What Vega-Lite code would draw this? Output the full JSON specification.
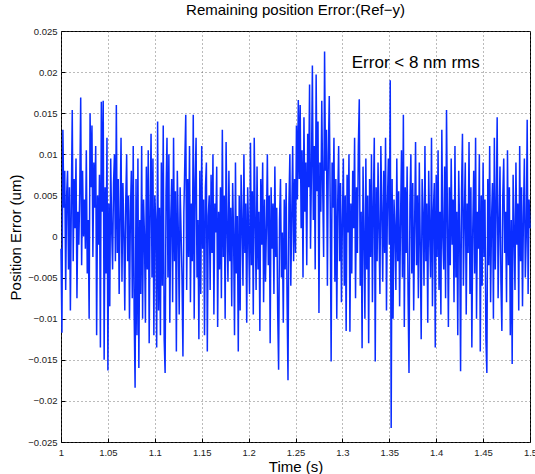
{
"$schema":"https://vega.github.io/schema/vega-lite/v6.json",
"autosize":"none",
"padding":{"left":61,"top":31,"right":5,"bottom":32},
"width":469,"height":411,
"background":"white",
"config":{"font":"Liberation Sans","view":{"stroke":"black","strokeWidth":1}},
"title":{"text":"Remaining position Error:(Ref−y)","fontSize":15,"fontWeight":"normal","color":"black","offset":8,"anchor":"middle"},
"datasets":{"sig":[
{"t":1.000,"e":-0.0015},{"t":1.001,"e":-0.0117},{"t":1.002,"e":0.013},{"t":1.003,"e":0.0035},{"t":1.004,"e":0.008},{"t":1.005,"e":-0.0065},{"t":1.006,"e":0.005},{"t":1.007,"e":0.008},{"t":1.008,"e":-0.004},{"t":1.009,"e":0.006},
{"t":1.010,"e":-0.009},{"t":1.011,"e":0.004},{"t":1.012,"e":0.0154},{"t":1.013,"e":-0.003},{"t":1.014,"e":0.007},{"t":1.015,"e":0.001},{"t":1.016,"e":0.0095},{"t":1.017,"e":-0.0075},{"t":1.018,"e":0.003},{"t":1.019,"e":-0.001},
{"t":1.020,"e":0.0055},{"t":1.021,"e":0.0169},{"t":1.022,"e":-0.0035},{"t":1.023,"e":0.008},{"t":1.024,"e":0},{"t":1.025,"e":0.0045},{"t":1.026,"e":-0.0015},{"t":1.027,"e":0.0105},{"t":1.028,"e":-0.0045},{"t":1.029,"e":0.002},
{"t":1.030,"e":-0.01},{"t":1.031,"e":0.015},{"t":1.032,"e":0.006},{"t":1.033,"e":0.0135},{"t":1.034,"e":-0.0025},{"t":1.035,"e":0.009},{"t":1.036,"e":0.0035},{"t":1.037,"e":0.011},{"t":1.038,"e":-0.012},{"t":1.039,"e":0.005},
{"t":1.040,"e":-0.001},{"t":1.041,"e":0.0075},{"t":1.042,"e":-0.0135},{"t":1.043,"e":0.0164},{"t":1.044,"e":0.003},{"t":1.045,"e":0.0165},{"t":1.046,"e":-0.015},{"t":1.047,"e":0.006},{"t":1.048,"e":-0.0045},{"t":1.049,"e":0.012},
{"t":1.050,"e":-0.0163},{"t":1.051,"e":0.004},{"t":1.052,"e":-0.0085},{"t":1.053,"e":0.0095},{"t":1.054,"e":0.001},{"t":1.055,"e":-0.004},{"t":1.056,"e":0.0065},{"t":1.057,"e":0.01},{"t":1.058,"e":-0.003},{"t":1.059,"e":0.016},
{"t":1.060,"e":-0.002},{"t":1.061,"e":0.007},{"t":1.062,"e":-0.007},{"t":1.063,"e":0.0025},{"t":1.064,"e":0.012},{"t":1.065,"e":-0.0055},{"t":1.066,"e":0.0065},{"t":1.067,"e":0.0005},{"t":1.068,"e":-0.009},{"t":1.069,"e":0.004},
{"t":1.070,"e":0.01},{"t":1.071,"e":-0.003},{"t":1.072,"e":0.005},{"t":1.073,"e":-0.01},{"t":1.074,"e":0.003},{"t":1.075,"e":0.008},{"t":1.076,"e":-0.0075},{"t":1.077,"e":0.011},{"t":1.078,"e":-0.0095},{"t":1.079,"e":-0.0184},
{"t":1.080,"e":0.007},{"t":1.081,"e":-0.012},{"t":1.082,"e":0.0095},{"t":1.083,"e":-0.016},{"t":1.084,"e":0.002},{"t":1.085,"e":-0.007},{"t":1.086,"e":0.011},{"t":1.087,"e":-0.01},{"t":1.088,"e":0.0045},{"t":1.089,"e":0},
{"t":1.090,"e":-0.0105},{"t":1.091,"e":0.0085},{"t":1.092,"e":-0.004},{"t":1.093,"e":0.0105},{"t":1.094,"e":-0.013},{"t":1.095,"e":0.003},{"t":1.096,"e":0.0125},{"t":1.097,"e":-0.005},{"t":1.098,"e":0.0095},{"t":1.099,"e":-0.012},
{"t":1.100,"e":0.005},{"t":1.101,"e":0.002},{"t":1.102,"e":-0.0135},{"t":1.103,"e":0.014},{"t":1.104,"e":-0.009},{"t":1.105,"e":0.0035},{"t":1.106,"e":-0.012},{"t":1.107,"e":0.009},{"t":1.108,"e":-0.006},{"t":1.109,"e":0.0135},
{"t":1.110,"e":-0.0125},{"t":1.111,"e":-0.0166},{"t":1.112,"e":0.0055},{"t":1.113,"e":0.012},{"t":1.114,"e":-0.005},{"t":1.115,"e":0.01},{"t":1.116,"e":-0.0105},{"t":1.117,"e":0.002},{"t":1.118,"e":0.007},{"t":1.119,"e":-0.008},
{"t":1.120,"e":0.012},{"t":1.121,"e":-0.003},{"t":1.122,"e":0.0055},{"t":1.123,"e":-0.014},{"t":1.124,"e":0.008},{"t":1.125,"e":0.001},{"t":1.126,"e":-0.0095},{"t":1.127,"e":0.006},{"t":1.128,"e":0.0005},{"t":1.129,"e":-0.005},
{"t":1.130,"e":-0.0146},{"t":1.131,"e":0.003},{"t":1.132,"e":0.009},{"t":1.133,"e":0.0148},{"t":1.134,"e":-0.0065},{"t":1.135,"e":0.007},{"t":1.136,"e":-0.0025},{"t":1.137,"e":0.011},{"t":1.138,"e":-0.008},{"t":1.139,"e":0.004},
{"t":1.140,"e":-0.003},{"t":1.141,"e":0.0148},{"t":1.142,"e":-0.01},{"t":1.143,"e":0.0065},{"t":1.144,"e":0.012},{"t":1.145,"e":-0.005},{"t":1.146,"e":0.002},{"t":1.147,"e":-0.0125},{"t":1.148,"e":0.008},{"t":1.149,"e":-0.007},
{"t":1.150,"e":0.011},{"t":1.151,"e":-0.0015},{"t":1.152,"e":0.0045},{"t":1.153,"e":-0.012},{"t":1.154,"e":0.006},{"t":1.155,"e":0.009},{"t":1.156,"e":-0.014},{"t":1.157,"e":0.0025},{"t":1.158,"e":0.005},{"t":1.159,"e":-0.0065},
{"t":1.160,"e":0.0075},{"t":1.161,"e":-0.002},{"t":1.162,"e":0.01},{"t":1.163,"e":-0.0095},{"t":1.164,"e":0.004},{"t":1.165,"e":0.0005},{"t":1.166,"e":0.0085},{"t":1.167,"e":-0.011},{"t":1.168,"e":0.003},{"t":1.169,"e":-0.004},
{"t":1.170,"e":0.006},{"t":1.171,"e":-0.0075},{"t":1.172,"e":0.013},{"t":1.173,"e":-0.0025},{"t":1.174,"e":0.005},{"t":1.175,"e":-0.01},{"t":1.176,"e":0.0115},{"t":1.177,"e":0.001},{"t":1.178,"e":-0.0055},{"t":1.179,"e":0.008},
{"t":1.180,"e":-0.003},{"t":1.181,"e":0.0035},{"t":1.182,"e":-0.0085},{"t":1.183,"e":0.0065},{"t":1.184,"e":0},{"t":1.185,"e":-0.012},{"t":1.186,"e":0.009},{"t":1.187,"e":-0.0045},{"t":1.188,"e":0.0025},{"t":1.189,"e":-0.014},
{"t":1.190,"e":0.005},{"t":1.191,"e":-0.009},{"t":1.192,"e":0.0075},{"t":1.193,"e":0.0015},{"t":1.194,"e":-0.006},{"t":1.195,"e":0.01},{"t":1.196,"e":-0.002},{"t":1.197,"e":0.004},{"t":1.198,"e":-0.0105},{"t":1.199,"e":0.006},
{"t":1.200,"e":0.0005},{"t":1.201,"e":-0.007},{"t":1.202,"e":0.0114},{"t":1.203,"e":-0.0035},{"t":1.204,"e":0.0055},{"t":1.205,"e":-0.0095},{"t":1.206,"e":0.012},{"t":1.207,"e":0.002},{"t":1.208,"e":-0.0065},{"t":1.209,"e":0.0085},
{"t":1.210,"e":-0.004},{"t":1.211,"e":0.003},{"t":1.212,"e":-0.0115},{"t":1.213,"e":0.007},{"t":1.214,"e":-0.001},{"t":1.215,"e":0.009},{"t":1.216,"e":-0.008},{"t":1.217,"e":0.0045},{"t":1.218,"e":-0.0055},{"t":1.219,"e":0.001},
{"t":1.220,"e":0.01},{"t":1.221,"e":-0.0035},{"t":1.222,"e":0.005},{"t":1.223,"e":-0.013},{"t":1.224,"e":0.006},{"t":1.225,"e":-0.0015},{"t":1.226,"e":0.004},{"t":1.227,"e":-0.007},{"t":1.228,"e":0.0085},{"t":1.229,"e":-0.0025},
{"t":1.230,"e":0.0035},{"t":1.231,"e":-0.009},{"t":1.232,"e":-0.0162},{"t":1.233,"e":0.002},{"t":1.234,"e":0.007},{"t":1.235,"e":-0.005},{"t":1.236,"e":0.0005},{"t":1.237,"e":-0.0105},{"t":1.238,"e":0.0045},{"t":1.239,"e":-0.004},
{"t":1.240,"e":0.0065},{"t":1.241,"e":-0.0075},{"t":1.242,"e":-0.0175},{"t":1.243,"e":0.004},{"t":1.244,"e":0.01},{"t":1.245,"e":-0.006},{"t":1.246,"e":0.0025},{"t":1.247,"e":0.011},{"t":1.248,"e":-0.003},{"t":1.249,"e":0.007},
{"t":1.250,"e":-0.002},{"t":1.251,"e":0.0135},{"t":1.252,"e":0.0045},{"t":1.253,"e":0.0166},{"t":1.254,"e":0.007},{"t":1.255,"e":0.016},{"t":1.256,"e":0.001},{"t":1.257,"e":0.0105},{"t":1.258,"e":-0.005},{"t":1.259,"e":0.0145},
{"t":1.260,"e":0.003},{"t":1.261,"e":0.009},{"t":1.262,"e":-0.0035},{"t":1.263,"e":0.0125},{"t":1.264,"e":0.006},{"t":1.265,"e":0.0185},{"t":1.266,"e":-0.0015},{"t":1.267,"e":0.008},{"t":1.268,"e":0.0208},{"t":1.269,"e":0.002},
{"t":1.270,"e":0.011},{"t":1.271,"e":-0.004},{"t":1.272,"e":0.0197},{"t":1.273,"e":0.0055},{"t":1.274,"e":0.014},{"t":1.275,"e":-0.0093},{"t":1.276,"e":0.009},{"t":1.277,"e":0.003},{"t":1.278,"e":0.0165},{"t":1.279,"e":0.006},
{"t":1.280,"e":-0.0025},{"t":1.281,"e":0.0225},{"t":1.282,"e":0.008},{"t":1.283,"e":0.013},{"t":1.284,"e":-0.006},{"t":1.285,"e":0.01},{"t":1.286,"e":0.0171},{"t":1.287,"e":0.004},{"t":1.288,"e":-0.0152},{"t":1.289,"e":0.009},
{"t":1.290,"e":0.0035},{"t":1.291,"e":0.012},{"t":1.292,"e":-0.0055},{"t":1.293,"e":0.007},{"t":1.294,"e":-0.01},{"t":1.295,"e":0.004},{"t":1.296,"e":0.011},{"t":1.297,"e":-0.003},{"t":1.298,"e":0.0065},{"t":1.299,"e":-0.008},
{"t":1.300,"e":0.002},{"t":1.301,"e":0.0095},{"t":1.302,"e":-0.006},{"t":1.303,"e":0.005},{"t":1.304,"e":-0.0115},{"t":1.305,"e":0.0075},{"t":1.306,"e":0.0005},{"t":1.307,"e":0.01},{"t":1.308,"e":-0.0116},{"t":1.309,"e":0.004},
{"t":1.310,"e":-0.0045},{"t":1.311,"e":0.008},{"t":1.312,"e":0.001},{"t":1.313,"e":0.012},{"t":1.314,"e":-0.0075},{"t":1.315,"e":0.006},{"t":1.316,"e":-0.002},{"t":1.317,"e":0.011},{"t":1.318,"e":0.0167},{"t":1.319,"e":-0.006},
{"t":1.320,"e":0.003},{"t":1.321,"e":-0.0136},{"t":1.322,"e":0.0085},{"t":1.323,"e":0},{"t":1.324,"e":-0.01},{"t":1.325,"e":0.0095},{"t":1.326,"e":-0.004},{"t":1.327,"e":0.005},{"t":1.328,"e":-0.013},{"t":1.329,"e":0.007},
{"t":1.330,"e":-0.0025},{"t":1.331,"e":0.01},{"t":1.332,"e":-0.008},{"t":1.333,"e":0.004},{"t":1.334,"e":0.012},{"t":1.335,"e":-0.0152},{"t":1.336,"e":0.006},{"t":1.337,"e":-0.003},{"t":1.338,"e":0.009},{"t":1.339,"e":0.0005},
{"t":1.340,"e":-0.007},{"t":1.341,"e":0.011},{"t":1.342,"e":0.003},{"t":1.343,"e":-0.0055},{"t":1.344,"e":0.008},{"t":1.345,"e":-0.002},{"t":1.346,"e":0.012},{"t":1.347,"e":-0.009},{"t":1.348,"e":0.004},{"t":1.349,"e":0.0095},
{"t":1.350,"e":-0.001},{"t":1.351,"e":0.019},{"t":1.352,"e":-0.0233},{"t":1.353,"e":0.007},{"t":1.354,"e":-0.01},{"t":1.355,"e":0.0045},{"t":1.356,"e":0.001},{"t":1.357,"e":-0.0065},{"t":1.358,"e":0.0095},{"t":1.359,"e":-0.003},
{"t":1.360,"e":0.0055},{"t":1.361,"e":-0.0085},{"t":1.362,"e":0.002},{"t":1.363,"e":0.0105},{"t":1.364,"e":-0.005},{"t":1.365,"e":0.0148},{"t":1.366,"e":-0.011},{"t":1.367,"e":0.006},{"t":1.368,"e":-0.002},{"t":1.369,"e":0.0085},
{"t":1.370,"e":-0.007},{"t":1.371,"e":-0.0166},{"t":1.372,"e":0.004},{"t":1.373,"e":0.01},{"t":1.374,"e":-0.0045},{"t":1.375,"e":0.0065},{"t":1.376,"e":-0.009},{"t":1.377,"e":0.0015},{"t":1.378,"e":0.0115},{"t":1.379,"e":-0.0035},
{"t":1.380,"e":0.005},{"t":1.381,"e":-0.0075},{"t":1.382,"e":0.009},{"t":1.383,"e":-0.001},{"t":1.384,"e":-0.0125},{"t":1.385,"e":0.007},{"t":1.386,"e":0.0025},{"t":1.387,"e":-0.006},{"t":1.388,"e":0.011},{"t":1.389,"e":-0.003},
{"t":1.390,"e":0.004},{"t":1.391,"e":-0.0105},{"t":1.392,"e":0.008},{"t":1.393,"e":0.0005},{"t":1.394,"e":-0.005},{"t":1.395,"e":0.012},{"t":1.396,"e":-0.0085},{"t":1.397,"e":0.003},{"t":1.398,"e":0.0065},{"t":1.399,"e":-0.0135},
{"t":1.400,"e":0.0075},{"t":1.401,"e":-0.0025},{"t":1.402,"e":0.0105},{"t":1.403,"e":-0.0065},{"t":1.404,"e":0.003},{"t":1.405,"e":-0.0095},{"t":1.406,"e":0.013},{"t":1.407,"e":0},{"t":1.408,"e":-0.004},{"t":1.409,"e":0.0085},
{"t":1.410,"e":-0.0075},{"t":1.411,"e":0.0154},{"t":1.412,"e":0.002},{"t":1.413,"e":-0.011},{"t":1.414,"e":0.006},{"t":1.415,"e":-0.0035},{"t":1.416,"e":0.0095},{"t":1.417,"e":-0.001},{"t":1.418,"e":0.0045},{"t":1.419,"e":-0.008},
{"t":1.420,"e":0.011},{"t":1.421,"e":-0.005},{"t":1.422,"e":0.003},{"t":1.423,"e":-0.012},{"t":1.424,"e":0.008},{"t":1.425,"e":0.0005},{"t":1.426,"e":-0.0164},{"t":1.427,"e":0.0055},{"t":1.428,"e":0.0125},{"t":1.429,"e":-0.006},
{"t":1.430,"e":0.0025},{"t":1.431,"e":0.009},{"t":1.432,"e":-0.0095},{"t":1.433,"e":0.004},{"t":1.434,"e":-0.002},{"t":1.435,"e":0.0115},{"t":1.436,"e":-0.007},{"t":1.437,"e":0.006},{"t":1.438,"e":-0.0135},{"t":1.439,"e":0.001},
{"t":1.440,"e":0.008},{"t":1.441,"e":-0.0045},{"t":1.442,"e":0.012},{"t":1.443,"e":-0.01},{"t":1.444,"e":0.003},{"t":1.445,"e":-0.0015},{"t":1.446,"e":0.01},{"t":1.447,"e":-0.014},{"t":1.448,"e":0.005},{"t":1.449,"e":-0.006},
{"t":1.450,"e":0.009},{"t":1.451,"e":-0.0025},{"t":1.452,"e":0.0045},{"t":1.453,"e":-0.0125},{"t":1.454,"e":-0.0166},{"t":1.455,"e":0.007},{"t":1.456,"e":-0.0035},{"t":1.457,"e":0.011},{"t":1.458,"e":-0.008},{"t":1.459,"e":0.002},
{"t":1.460,"e":0.0065},{"t":1.461,"e":-0.01},{"t":1.462,"e":0.012},{"t":1.463,"e":-0.004},{"t":1.464,"e":0.0035},{"t":1.465,"e":0.0145},{"t":1.466,"e":-0.0075},{"t":1.467,"e":0.001},{"t":1.468,"e":0.0085},{"t":1.469,"e":-0.0055},
{"t":1.470,"e":-0.0115},{"t":1.471,"e":0.005},{"t":1.472,"e":0.0095},{"t":1.473,"e":-0.002},{"t":1.474,"e":0.003},{"t":1.475,"e":-0.008},{"t":1.476,"e":0.0105},{"t":1.477,"e":-0.0035},{"t":1.478,"e":0.006},{"t":1.479,"e":-0.012},
{"t":1.480,"e":0.002},{"t":1.481,"e":-0.0155},{"t":1.482,"e":0.0075},{"t":1.483,"e":0.0005},{"t":1.484,"e":-0.0065},{"t":1.485,"e":0.009},{"t":1.486,"e":-0.001},{"t":1.487,"e":0.004},{"t":1.488,"e":-0.009},{"t":1.489,"e":0.011},
{"t":1.490,"e":-0.003},{"t":1.491,"e":0.006},{"t":1.492,"e":-0.0085},{"t":1.493,"e":0.0025},{"t":1.494,"e":0.0095},{"t":1.495,"e":-0.005},{"t":1.496,"e":0},{"t":1.497,"e":0.0142},{"t":1.498,"e":-0.007},{"t":1.499,"e":0.0045},
{"t":1.500,"e":0.001}
],
"note":[{"t":1.31,"e":0.0205,"label":"Error < 8 nm rms"}]},
"layer":[
{"data":{"name":"sig"},
"mark":{"type":"line","color":"#0a2dff","strokeWidth":1.5},
"encoding":{
"x":{"field":"t","type":"quantitative","scale":{"domain":[1,1.5],"nice":false,"zero":false},
"axis":{"title":"Time (s)","values":[1,1.05,1.1,1.15,1.2,1.25,1.3,1.35,1.4,1.45,1.5],"labelExpr":"format(datum.value,'~g')","labelFontSize":9.5,"labelColor":"#222","labelPadding":9,"tickSize":-4,"tickColor":"black","domain":false,"grid":true,"gridColor":"#555","gridDash":[1,3],"gridOpacity":0.8,"titleFontSize":15,"titleFontWeight":"normal","titleColor":"black","titlePadding":3,"labelFlush":false,"labelOverlap":false}},
"y":{"field":"e","type":"quantitative","scale":{"domain":[-0.025,0.025],"nice":false,"zero":false},
"axis":{"title":"Position Error (um)","values":[-0.025,-0.02,-0.015,-0.01,-0.005,0,0.005,0.01,0.015,0.02,0.025],"labelExpr":"format(datum.value,'~g')","labelFontSize":9.5,"labelColor":"#222","labelPadding":8,"tickSize":-4,"tickColor":"black","domain":false,"grid":true,"gridColor":"#555","gridDash":[1,3],"gridOpacity":0.8,"titleFontSize":15,"titleFontWeight":"normal","titleColor":"black","titleX":-38,"titleY":206,"labelFlush":false,"labelOverlap":false}}
}},
{"data":{"name":"note"},
"mark":{"type":"text","align":"left","baseline":"alphabetic","fontSize":17,"color":"black"},
"encoding":{"x":{"field":"t","type":"quantitative"},"y":{"field":"e","type":"quantitative"},"text":{"field":"label"}}}
]
}
